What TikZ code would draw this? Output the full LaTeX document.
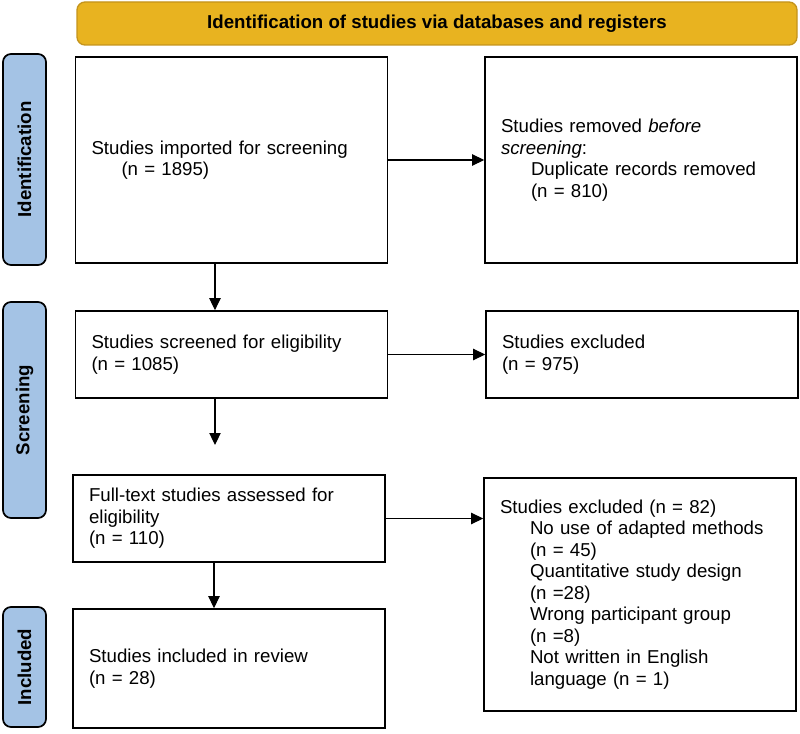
\documentclass[tikz,border=0pt]{standalone}
\usepackage{fontspec}
\setmainfont{Liberation Sans}
\usetikzlibrary{arrows.meta}

\definecolor{hdrgold}{RGB}{232,179,32}
\definecolor{hdredge}{RGB}{196,148,28}
\definecolor{phaseblue}{RGB}{164,195,229}

\tikzset{
  stagebox/.style={draw, line width=1.2pt, align=left, text width=210pt, inner xsep=12pt,
    font=\fontsize{14}{16.1}\selectfont},
  phasebar/.style={draw, line width=1.3pt, fill=phaseblue, rounded corners=6pt, rotate=90,
    minimum height=32.25pt, font=\bfseries\fontsize{14}{16.1}\selectfont},
  flowarrow/.style={-{Triangle[length=9pt,width=8.5pt]}, line width=0.8pt}
}

\begin{document}
\begin{tikzpicture}[x=0.75pt,y=-0.75pt]
		\useasboundingbox (0,0) rectangle (800,734);
		\node[draw=hdredge, fill=hdrgold, rounded corners=6pt, line width=1pt, minimum width=540pt, minimum height=32.25pt, font=\bfseries\fontsize{14}{16.1}\selectfont] (hdr) at (437,23.5) {Identification of studies via databases and registers};
		\node[phasebar, minimum width=158.25pt] (ident) at (24.5,159.5) {Identification};
		\node[phasebar, minimum width=162pt] (screen) at (24.5,410) {Screening};
		\node[phasebar, minimum width=90pt] (incl) at (24.5,667) {Included};
		\node[stagebox, minimum height=154.5pt] (imported) at (231.5,160) {Studies imported for screening\\\hspace*{22.5pt}(n = 1895)};
		\node[stagebox, minimum height=154.5pt] (removed) at (641,160) {Studies removed \textit{before}\\\textit{screening}:\\\hspace*{22.5pt}Duplicate records removed\\\hspace*{22.5pt}(n = 810)};
		\node[stagebox, minimum height=65.25pt] (screened) at (231.5,354.5) {Studies screened for eligibility\\(n = 1085)};
		\node[stagebox, minimum height=65.25pt] (excluded) at (642,354.5) {Studies excluded\\(n = 975)};
		\node[stagebox, minimum height=65.25pt] (fulltext) at (229,518.5) {Full-text studies assessed for\\eligibility\\(n = 110)};
		\node[stagebox, minimum height=174.75pt] (reasons) at (640,594.5) {Studies excluded (n = 82)\\\hspace*{22.5pt}No use of adapted methods\\\hspace*{22.5pt}(n = 45)\\\hspace*{22.5pt}Quantitative study design\\\hspace*{22.5pt}(n =28)\\\hspace*{22.5pt}Wrong participant group\\\hspace*{22.5pt}(n =8)\\\hspace*{22.5pt}Not written in English\\\hspace*{22.5pt}language (n = 1)};
		\node[stagebox, minimum height=89.25pt] (included) at (229,668.5) {Studies included in review\\(n = 28)};
		\coordinate (gapend) at (215,445);
		\draw[flowarrow] (imported.east) -- (removed.west);
		\draw[flowarrow] ([xshift=-12.4pt]imported.south) -- ([xshift=-12.4pt]screened.north);
		\draw[flowarrow] (screened.east) -- (excluded.west);
		\draw[flowarrow] (screened.south -| gapend) -- (gapend);
		\draw[flowarrow] (fulltext.east) -- (fulltext.east -| reasons.west);
		\draw[flowarrow] ([xshift=-11.25pt]fulltext.south) -- ([xshift=-11.25pt]included.north);
\end{tikzpicture}
\end{document}
